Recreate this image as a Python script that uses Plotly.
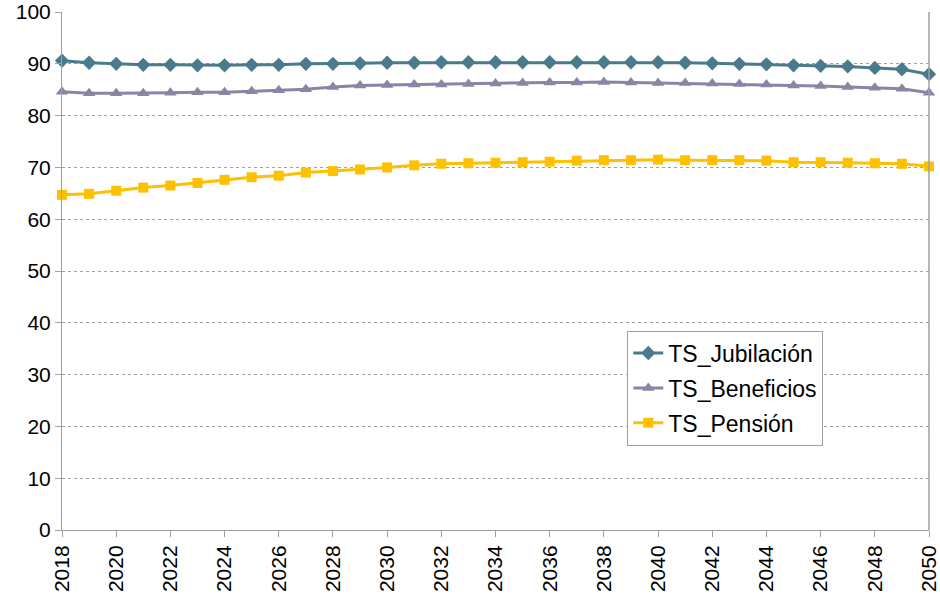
import plotly.graph_objects as go

years = list(range(2018, 2051))
ts_jubilacion = [90.6, 90.2, 90.0, 89.8, 89.8, 89.7, 89.7, 89.8, 89.8, 90.0, 90.0,
                 90.1, 90.2, 90.2, 90.3, 90.3, 90.3, 90.3, 90.3, 90.3, 90.3, 90.3,
                 90.3, 90.2, 90.1, 90.0, 89.9, 89.7, 89.6, 89.5, 89.2, 88.95, 88.0]
ts_beneficios = [84.6, 84.3, 84.3, 84.3, 84.4, 84.5, 84.5, 84.7, 84.9, 85.1, 85.5,
                 85.8, 85.9, 86.0, 86.0, 86.1, 86.2, 86.3, 86.4, 86.4, 86.5, 86.4,
                 86.3, 86.3, 86.2, 86.1, 86.0, 85.8, 85.7, 85.5, 85.4, 85.2, 84.4]
ts_pension = [64.7, 64.9, 65.5, 66.1, 66.5, 67.0, 67.6, 68.1, 68.4, 69.0, 69.3,
              69.6, 70.0, 70.4, 70.7, 70.8, 70.9, 71.0, 71.1, 71.3, 71.4, 71.4,
              71.5, 71.4, 71.4, 71.4, 71.3, 71.0, 71.0, 70.9, 70.8, 70.7, 70.2]

x_ticks = list(range(2018, 2051, 2))
y_ticks = list(range(0, 101, 10))

fig = go.Figure()
fig.add_trace(go.Scatter(x=years, y=ts_jubilacion, name="TS_Jubilación", mode="lines+markers",
                         legendgroup="a",
                         line=dict(color="#4A7B8C", width=3),
                         marker=dict(symbol="diamond", size=11, color="#4A7B8C"), cliponaxis=False))
fig.add_trace(go.Scatter(x=years, y=ts_beneficios, name="TS_Beneficios", mode="lines+markers",
                         legendgroup="b",
                         line=dict(color="#8B84A4", width=3),
                         marker=dict(symbol="triangle-up", size=11, color="#8B84A4"), cliponaxis=False))
fig.add_trace(go.Scatter(x=years, y=ts_pension, name="TS_Pensión", mode="lines+markers",
                         legendgroup="c",
                         line=dict(color="#FFC000", width=3),
                         marker=dict(symbol="square", size=10, color="#FFC000"), cliponaxis=False))

fig.update_layout(
    width=940, height=600,
    margin=dict(l=62, r=11, t=12, b=70, autoexpand=False),
    paper_bgcolor="white", plot_bgcolor="white",
    font=dict(family="Liberation Sans, Arial, sans-serif", size=21, color="black"),
    legend=dict(x=0.652, y=0.385, xanchor="left", yanchor="top",
                bordercolor="#A0A0A0", borderwidth=1, bgcolor="white",
                font=dict(size=23), tracegroupgap=2, itemwidth=30),
    showlegend=True,
)
fig.update_xaxes(range=[2018, 2050], tickmode="array", tickvals=x_ticks,
                 ticktext=[str(t) for t in x_ticks], tickangle=-90, automargin=False,
                 showgrid=False, showline=True, linecolor="#A0A0A0", linewidth=1,
                 ticks="outside", ticklen=6, tickcolor="#A0A0A0", zeroline=False)
fig.update_yaxes(range=[0, 100], tickmode="array", tickvals=y_ticks, automargin=False,
                 showgrid=True, gridcolor="#A0A0A0", griddash="dot", gridwidth=1,
                 showline=True, linecolor="#A0A0A0", linewidth=1,
                 ticks="outside", ticklen=6, tickcolor="#A0A0A0", zeroline=False)
fig.add_shape(type="line", xref="paper", yref="paper", x0=1, x1=1, y0=0, y1=1,
              line=dict(color="#A0A0A0", width=1.5))

fig.write_html("out.html", config={"displayModeBar": False},
               post_script="document.body.style.margin='0';")
